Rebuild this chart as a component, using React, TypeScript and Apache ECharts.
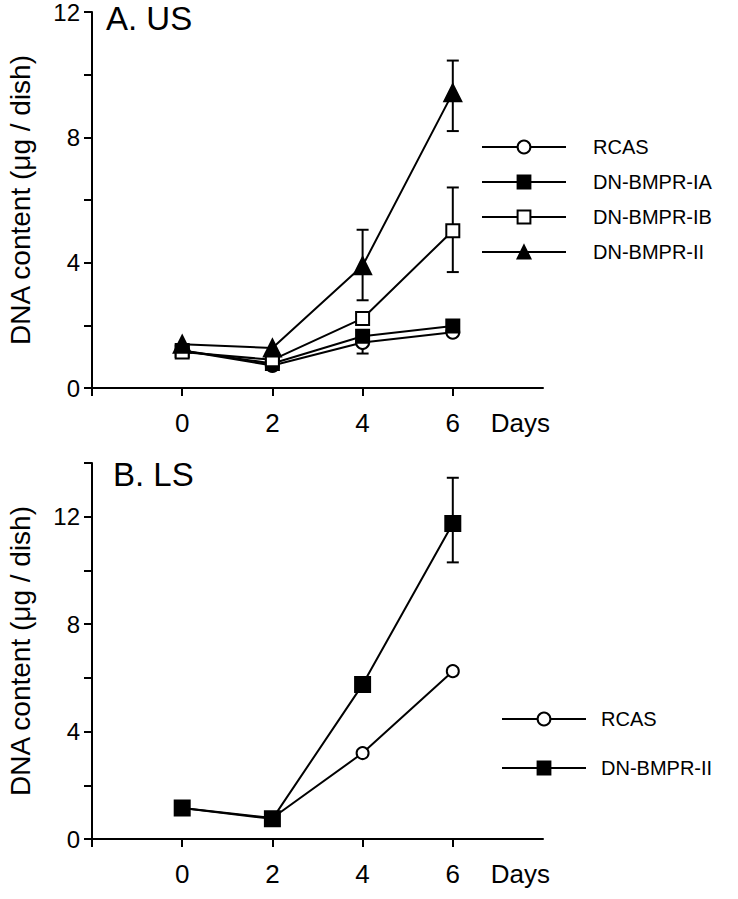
import React, { useEffect, useRef } from "react";
import * as echarts from "echarts";

const days = [0, 2, 4, 6];

// Panel A (US)
const usRCAS = [1.2, 0.72, 1.45, 1.78];
const usIA = [1.2, 0.78, 1.65, 1.98];
const usIB = [1.15, 0.9, 2.22, 5.02];
const usII = [1.4, 1.28, 3.9, 9.42];
// error bars: [day, low, high]
const usErr = [
  [4, 1.1, 1.8],
  [4, 2.8, 5.05],
  [6, 8.2, 10.45],
  [6, 3.7, 6.4],
];

// Panel B (LS)
const lsRCAS = [1.15, 0.78, 3.2, 6.25];
const lsII = [1.15, 0.75, 5.75, 11.75];
const lsErr = [[6, 10.3, 13.45]];

const usNames = ["RCAS", "DN-BMPR-IA", "DN-BMPR-IB", "DN-BMPR-II"];
const lsNames = ["LS:RCAS", "LS:DN-BMPR-II"];

const xTicks = [-2, 0, 2, 4, 6];
const xLabels = [0, 2, 4, 6, 7.5];
const yLabels = [0, 4, 8, 12];

const FONT = "Liberation Sans";

function pairs(vals: number[]) {
  return days.map((d, i) => [d, vals[i]]);
}

export default function App() {
  const ref = useRef<HTMLDivElement>(null);
  useEffect(() => {
    if (!ref.current) return;
    const chart = echarts.init(ref.current, null, { renderer: "svg" });

    const errRender = (params: any, api: any) => {
      const x = api.value(0);
      const lo = api.coord([x, api.value(1)]);
      const hi = api.coord([x, api.value(2)]);
      const h = 6;
      const st = { stroke: "#000", lineWidth: 2 };
      return {
        type: "group",
        children: [
          { type: "line", shape: { x1: lo[0], y1: lo[1], x2: hi[0], y2: hi[1] }, style: st },
          { type: "line", shape: { x1: lo[0] - h, y1: lo[1], x2: lo[0] + h, y2: lo[1] }, style: st },
          { type: "line", shape: { x1: hi[0] - h, y1: hi[1], x2: hi[0] + h, y2: hi[1] }, style: st },
        ],
      };
    };

    const xAxisBase = (gridIndex: number) => ({
      type: "value",
      gridIndex,
      min: -2,
      max: 8,
      interval: 2,
      splitLine: { show: false },
      axisLine: { onZero: false, lineStyle: { color: "#000", width: 2 } },
      axisTick: { length: 8, lineStyle: { color: "#000", width: 2 }, customValues: xTicks },
      axisLabel: {
        customValues: xLabels,
        color: "#000",
        fontSize: 26,
        fontFamily: FONT,
        margin: 22,
        formatter: (v: number) => (v === 7.5 ? "Days" : String(v)),
      },
    });

    const yAxisBase = (gridIndex: number, max: number) => ({
      type: "value",
      gridIndex,
      min: 0,
      max,
      interval: 2,
      name: "DNA content (μg / dish)",
      nameLocation: "middle",
      nameGap: 58,
      nameTextStyle: { color: "#000", fontSize: 28, fontFamily: FONT },
      splitLine: { show: false },
      axisLine: { onZero: false, lineStyle: { color: "#000", width: 2 } },
      axisTick: { length: 8, lineStyle: { color: "#000", width: 2 } },
      axisLabel: {
        customValues: yLabels,
        color: "#000",
        fontSize: 24,
        lineHeight: 18,
        padding: [8, 0, 0, 0],
        fontFamily: FONT,
        margin: 12,
      },
    });

    const lineSeries = (name: string, vals: number[], idx: number, symbol: string, size: number) => ({
      type: "line",
      name,
      xAxisIndex: idx,
      yAxisIndex: idx,
      data: pairs(vals),
      symbol,
      symbolSize: size,
      showAllSymbol: true,
      z: 3,
      lineStyle: { color: "#000", width: 2 },
      itemStyle: { color: "#000", borderColor: "#000", borderWidth: 2 },
    });

    chart.setOption({
      animation: false,
      backgroundColor: "#fff",
      title: [
        { text: "A. US", left: 106, top: 2, padding: 0, textStyle: { fontSize: 33, fontWeight: "normal", color: "#000", fontFamily: FONT } },
        { text: "B. LS", left: 113, top: 458, padding: 0, textStyle: { fontSize: 33, fontWeight: "normal", color: "#000", fontFamily: FONT } },
      ],
      grid: [
        { left: 92, top: 12, width: 451, height: 376, outerBoundsMode: "none", containLabel: false },
        { left: 92, top: 463, width: 451, height: 376, outerBoundsMode: "none", containLabel: false },
      ],
      xAxis: [xAxisBase(0), xAxisBase(1)],
      yAxis: [yAxisBase(0, 12), yAxisBase(1, 14)],
      legend: [
        {
          data: usNames,
          orient: "vertical",
          left: 481,
          top: 137,
          padding: 0,
          itemWidth: 84,
          itemHeight: 16,
          itemGap: 15,
          selectedMode: false,
          textStyle: { color: "#000", fontSize: 20, fontFamily: FONT, padding: [0, 0, 0, 22] },
        },
        {
          data: lsNames,
          orient: "vertical",
          left: 501,
          top: 709,
          padding: 0,
          itemWidth: 84,
          itemHeight: 16,
          itemGap: 29,
          selectedMode: false,
          formatter: (n: string) => n.replace(/^LS:/, ""),
          textStyle: { color: "#000", fontSize: 20, fontFamily: FONT, padding: [0, 0, 0, 10] },
        },
      ],
      series: [
        { type: "custom", xAxisIndex: 0, yAxisIndex: 0, data: usErr, renderItem: errRender, z: 1, encode: { x: 0, y: [1, 2] } },
        { type: "custom", xAxisIndex: 1, yAxisIndex: 1, data: lsErr, renderItem: errRender, z: 1, encode: { x: 0, y: [1, 2] } },
        lineSeries(usNames[0], usRCAS, 0, "emptyCircle", 13),
        lineSeries(usNames[1], usIA, 0, "rect", 13),
        lineSeries(usNames[2], usIB, 0, "emptyRect", 13),
        lineSeries(usNames[3], usII, 0, "triangle", 17),
        lineSeries(lsNames[0], lsRCAS, 1, "emptyCircle", 12),
        lineSeries(lsNames[1], lsII, 1, "rect", 15),
      ],
    });

    return () => chart.dispose();
  }, []);

  return (
    <div
      ref={ref}
      style={{ position: "absolute", left: 0, top: 0, width: 738, height: 899 }}
    />
  );
}
